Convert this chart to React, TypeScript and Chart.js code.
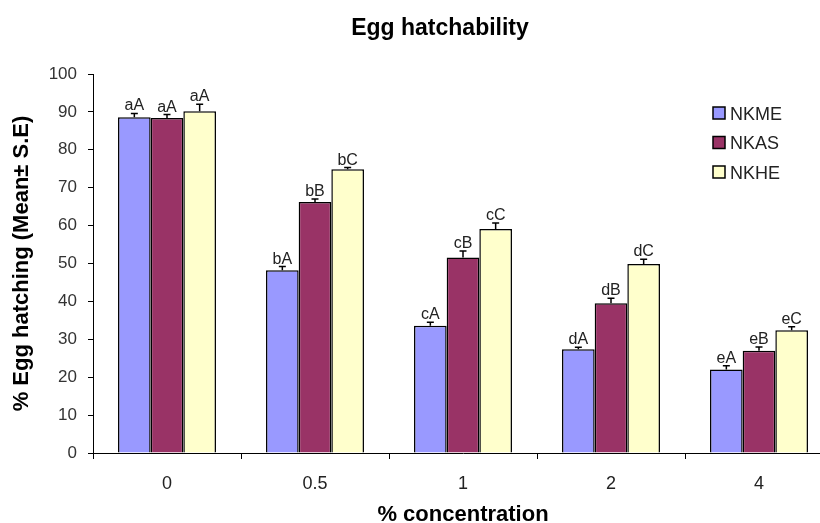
import React, { useEffect, useRef } from 'react';
import { Chart, registerables } from 'chart.js';

Chart.register(...registerables);

const categories = ['0', '0.5', '1', '2', '4'];
const seriesNames = ['NKME', 'NKAS', 'NKHE'];
const nkme = [88.6, 48.2, 33.6, 27.4, 22.0];
const nkas = [88.4, 66.2, 51.6, 39.5, 27.0];
const nkhe = [90.2, 74.9, 59.1, 49.9, 32.4];
const nkmeErr = [1.0, 1.0, 0.9, 0.5, 1.0];
const nkasErr = [0.9, 0.8, 1.7, 1.3, 1.0];
const nkheErr = [1.8, 0.4, 1.6, 1.2, 0.9];
const nkmeSig = ['aA', 'bA', 'cA', 'dA', 'eA'];
const nkasSig = ['aA', 'bB', 'cB', 'dB', 'eB'];
const nkheSig = ['aA', 'bC', 'cC', 'dC', 'eC'];
const colors = ['#9999FF', '#993366', '#FFFFCC'];
const yMin = 0;
const yMax = 100;
const yStep = 10;
const chartTitle = 'Egg hatchability';
const xTitle = '% concentration';
const yTitle = '% Egg hatching (Mean\u00B1 S.E)';

const FONT = '"Liberation Sans", Arial, sans-serif';

const errorPlugin = {
  id: 'errorBarsAndLabels',
  afterDatasetsDraw(chart: any) {
    const ctx = chart.ctx;
    const y = chart.scales.y;
    chart.data.datasets.forEach((ds: any, i: number) => {
      const meta = chart.getDatasetMeta(i);
      meta.data.forEach((bar: any, j: number) => {
        const v = ds.data[j];
        const e = ds.errors[j];
        const top = y.getPixelForValue(v + e);
        ctx.save();
        ctx.strokeStyle = '#000';
        ctx.lineWidth = 1.5;
        ctx.beginPath();
        ctx.moveTo(bar.x, bar.y);
        ctx.lineTo(bar.x, top);
        ctx.moveTo(bar.x - 3.5, top);
        ctx.lineTo(bar.x + 3.5, top);
        ctx.stroke();
        ctx.fillStyle = '#222';
        ctx.font = `16px ${FONT}`;
        ctx.textAlign = 'center';
        ctx.textBaseline = 'alphabetic';
        ctx.fillText(ds.sig[j], bar.x, top - 3);
        ctx.restore();
      });
    });
  },
};

const titleLegendPlugin = {
  id: 'titleLegend',
  afterDraw(chart: any) {
    const ctx = chart.ctx;
    const area = chart.chartArea;
    ctx.save();
    ctx.fillStyle = '#000';
    ctx.font = `bold 23px ${FONT}`;
    ctx.textAlign = 'center';
    ctx.textBaseline = 'alphabetic';
    ctx.fillText(chartTitle, 440, 35);

    ctx.font = `bold 22px ${FONT}`;
    ctx.fillText(xTitle, (area.left + area.right) / 2, 521);

    chart.data.datasets.forEach((ds: any, i: number) => {
      const bx = 713;
      const by = 107 + i * 29.5;
      ctx.fillStyle = ds.backgroundColor;
      ctx.fillRect(bx, by, 12, 12);
      ctx.strokeStyle = '#000';
      ctx.lineWidth = 1.5;
      ctx.strokeRect(bx, by, 12, 12);
      ctx.fillStyle = '#222';
      ctx.font = `18px ${FONT}`;
      ctx.textAlign = 'left';
      ctx.fillText(ds.label, 730, by + 12.5);
    });
    ctx.restore();
  },
};

export default function App() {
  const ref = useRef<HTMLCanvasElement>(null);

  useEffect(() => {
    if (!ref.current) return;
    document.body.style.margin = '0';
    document.body.style.overflow = 'hidden';
    Chart.defaults.font.family = FONT;
    const seriesData = [nkme, nkas, nkhe];
    const seriesErr = [nkmeErr, nkasErr, nkheErr];
    const seriesSig = [nkmeSig, nkasSig, nkheSig];
    const chart = new Chart(ref.current, {
      type: 'bar',
      data: {
        labels: categories,
        datasets: seriesNames.map((name, i) => ({
          label: name,
          data: seriesData[i],
          errors: seriesErr[i],
          sig: seriesSig[i],
          backgroundColor: colors[i],
          borderColor: '#000',
          borderWidth: 1.5,
          categoryPercentage: 0.662,
          barPercentage: 1,
        })) as any,
      },
      options: {
        responsive: false,
        animation: false,
        layout: { padding: { top: 74, left: 0, right: 0, bottom: 0 } },
        plugins: {
          legend: { display: false },
          title: { display: false },
          tooltip: { enabled: false },
        },
        scales: {
          x: {
            offset: true,
            grid: {
              display: true,
              drawOnChartArea: false,
              drawTicks: true,
              tickLength: 6,
              color: '#000',
              offset: true,
            },
            border: { display: true, color: '#000', width: 1 },
            ticks: { color: '#222', font: { size: 18 }, padding: 14 },
            title: { display: false },
            afterFit: (s: any) => {
              s.height = 70;
            },
          },
          y: {
            min: yMin,
            max: yMax,
            ticks: { stepSize: yStep, color: '#333', font: { size: 17 }, padding: 11 },
            grid: {
              display: true,
              drawOnChartArea: false,
              drawTicks: true,
              tickLength: 5,
              color: '#000',
            },
            border: { display: true, color: '#000', width: 1 },
            title: {
              display: true,
              text: yTitle,
              color: '#000',
              font: { size: 22, weight: 'bold' },
              padding: { top: 9, bottom: 0 },
            },
            afterFit: (s: any) => {
              s.width = 93;
            },
          },
        },
      } as any,
      plugins: [errorPlugin, titleLegendPlugin],
    });
    return () => chart.destroy();
  }, []);

  return (
    <div style={{ width: 820, height: 523, overflow: 'hidden', background: '#fff' }}>
      <div style={{ width: 833, height: 523 }}>
        <canvas ref={ref} width={833} height={523} style={{ display: 'block' }} />
      </div>
    </div>
  );
}
